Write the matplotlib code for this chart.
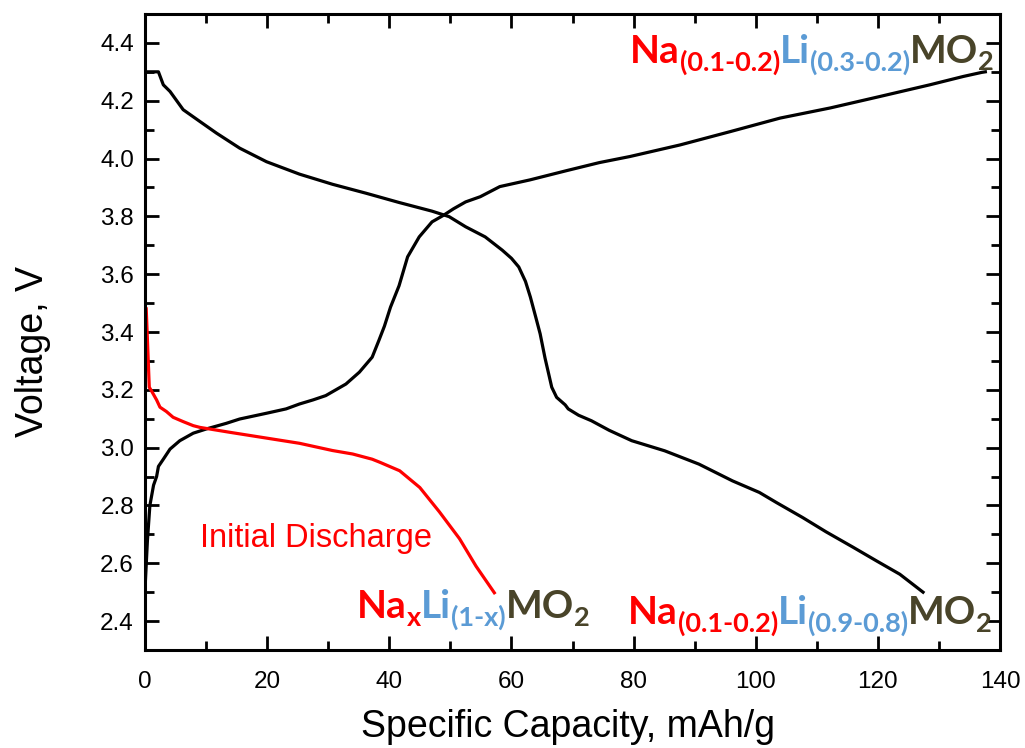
import matplotlib
matplotlib.use("Agg")
import matplotlib.pyplot as plt
from matplotlib.ticker import MultipleLocator

# Charge curve (black, rising)
charge_x = [0, 0.4, 0.8, 1.4, 1.9, 2.2, 3.0, 4.1, 5.7, 7.9, 10.1, 13.3, 15.5, 19.9,
            23.1, 25.3, 27.5, 29.6, 32.9, 35.1, 37.2, 38.3, 39.2, 40.2, 41.6, 43.0,
            44.9, 47.0, 48.9, 50.5, 52.5, 54.9, 58.1, 63.0, 69.0, 74.4, 79.4, 87.6,
            95.8, 104.0, 112.2, 120.4, 128.5, 134.0, 137.0, 137.6]
charge_v = [2.51, 2.68, 2.80, 2.87, 2.90, 2.935, 2.96, 2.995, 3.024, 3.05, 3.065, 3.084,
            3.099, 3.119, 3.134, 3.151, 3.165, 3.18, 3.22, 3.261, 3.313, 3.371, 3.42,
            3.486, 3.56, 3.66, 3.729, 3.781, 3.804, 3.826, 3.85, 3.868, 3.903, 3.926,
            3.958, 3.986, 4.007, 4.047, 4.093, 4.14, 4.175, 4.215, 4.255, 4.284, 4.298,
            4.30]

# Discharge curve (black, falling)
discharge_x = [0, 2.2, 3.0, 4.1, 6.25, 9.0, 11.7, 15.5, 19.9, 25.3, 30.7, 36.2, 41.6,
               47.0, 49.8, 52.5, 55.7, 58.5, 60.0, 61.2, 62.3, 63.1, 64.0, 64.7, 65.5,
               66.1, 66.6, 67.4, 68.8, 69.3, 71.0, 73.1, 76.0, 79.7, 85.1, 90.7, 96.2,
               100.6, 103.4, 107.7, 111.5, 115.9, 119.8, 123.6, 127.4]
discharge_v = [4.30, 4.30, 4.255, 4.232, 4.169, 4.128, 4.088, 4.036, 3.989, 3.946, 3.911,
               3.880, 3.848, 3.818, 3.799, 3.764, 3.729, 3.683, 3.655, 3.625, 3.575,
               3.521, 3.45, 3.394, 3.31, 3.255, 3.209, 3.174, 3.148, 3.134, 3.112, 3.093,
               3.06, 3.024, 2.989, 2.943, 2.885, 2.845, 2.81, 2.758, 2.709, 2.656, 2.608,
               2.562, 2.50]

# Initial discharge (red)
initial_x = [0.2, 0.7, 1.1, 1.9, 2.45, 3.5, 4.6, 6.25, 7.9, 9.0, 13.9, 19.3, 25.3, 30.7,
             34.0, 37.2, 38.5, 41.7, 45.0, 48.2, 51.5, 54.2, 57.2]
initial_v = [3.48, 3.209, 3.195, 3.165, 3.14, 3.125, 3.105, 3.09, 3.076, 3.07, 3.053,
             3.035, 3.015, 2.99, 2.978, 2.96, 2.949, 2.92, 2.862, 2.778, 2.685, 2.59, 2.498]

x_ticks = [0, 20, 40, 60, 80, 100, 120, 140]
y_ticks = [2.4, 2.6, 2.8, 3.0, 3.2, 3.4, 3.6, 3.8, 4.0, 4.2, 4.4]

RED = "#FF0000"
BLUE = "#5B9BD5"
OLIVE = "#494429"

plt.rcParams["font.family"] = ["Liberation Sans", "DejaVu Sans"]

fig = plt.figure(figsize=(10.25, 7.48), dpi=100)
ax = fig.add_axes([145 / 1025, 1 - 650 / 748, 855 / 1025, 636 / 748])

ax.plot(charge_x, charge_v, color="black", lw=2.3, solid_joinstyle="round")
ax.plot(discharge_x, discharge_v, color="black", lw=2.3, solid_joinstyle="round")
ax.plot(initial_x, initial_v, color=RED, lw=2.3, solid_joinstyle="round")

ax.set_xlim(0, 140)
ax.set_ylim(2.30, 4.50)
ax.set_xticks(x_ticks)
ax.set_yticks(y_ticks)
ax.set_yticklabels([f"{v:.1f}" for v in y_ticks])
ax.xaxis.set_minor_locator(MultipleLocator(10))
ax.yaxis.set_minor_locator(MultipleLocator(0.1))
ax.tick_params(which="both", direction="in", top=True, right=True, width=2.0)
ax.tick_params(which="major", length=10)
ax.tick_params(which="minor", length=6.5)
ax.tick_params(axis="x", which="major", labelsize=17.5, pad=15)
ax.tick_params(axis="y", which="major", labelsize=17.5, pad=8)
for sp in ax.spines.values():
    sp.set_linewidth(2.2)

ax.set_xlabel("Specific Capacity, mAh/g", fontsize=27)
ax.set_ylabel("Voltage, V", fontsize=27)
ax.xaxis.set_label_coords(0.495, -0.092)
ax.yaxis.set_label_coords(-0.110, 0.469)

ax.text(9.0, 2.657, "Initial Discharge", color=RED, fontsize=23.5,
        ha="left", va="baseline")

renderer = fig.canvas.get_renderer()


def formula(x, y, pieces, main=28, sub=19.5, drop=-5.5):
    """Draw a chemical formula as consecutive coloured bold pieces."""
    dx = 0.0
    for text, color, is_sub in pieces:
        t = ax.annotate(text, xy=(x, y), xycoords="data",
                        xytext=(dx, drop if is_sub else 0),
                        textcoords="offset points",
                        color=color, fontsize=sub if is_sub else main,
                        fontweight="bold", family="Lato",
                        ha="left", va="baseline")
        dx += t.get_window_extent(renderer).width * 72 / fig.dpi


formula(79.4, 4.331, [("Na", RED, False), ("(0.1-0.2)", RED, True),
                      ("Li", BLUE, False), ("(0.3-0.2)", BLUE, True),
                      ("MO", OLIVE, False), ("2", OLIVE, True)])
formula(34.7, 2.410, [("Na", RED, False), ("x", RED, True),
                      ("Li", BLUE, False), ("(1-x)", BLUE, True),
                      ("MO", OLIVE, False), ("2", OLIVE, True)])
formula(79.1, 2.389, [("Na", RED, False), ("(0.1-0.2)", RED, True),
                      ("Li", BLUE, False), ("(0.9-0.8)", BLUE, True),
                      ("MO", OLIVE, False), ("2", OLIVE, True)])

fig.savefig("out.png", dpi=100)
